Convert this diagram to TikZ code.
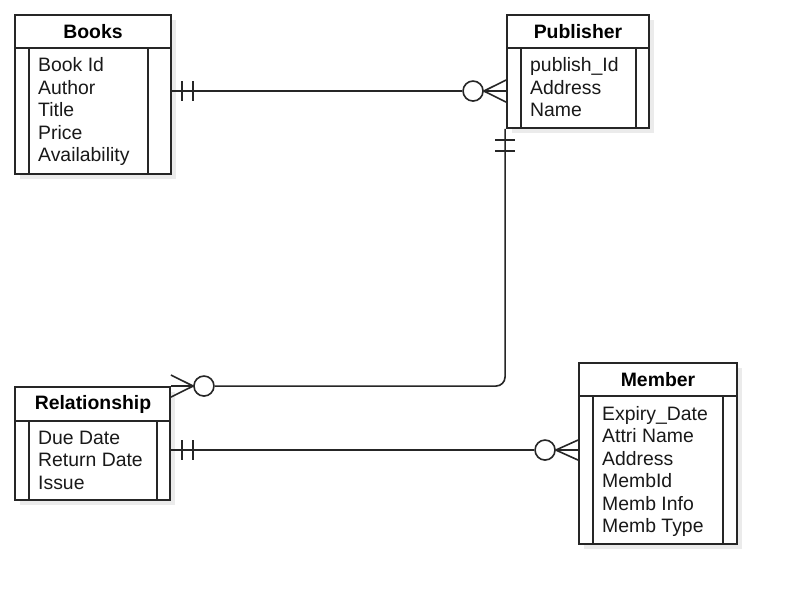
\documentclass[tikz,border=0pt]{standalone}
\usepackage{fontspec}
\setmainfont{Liberation Sans}
\usetikzlibrary{calc,shadows}
\tikzset{
  entity/.style={draw=black!85, line width=1.9pt, fill=white, inner sep=0pt,
    drop shadow={shadow xshift=5pt, shadow yshift=-5pt, fill=black!8, opacity=1}},
  divider/.style={draw=black!85, line width=1.9pt},
  title/.style={font=\fontsize{19.4}{22}\selectfont\bfseries, inner sep=0pt},
  attr/.style={font=\fontsize{19.4}{22}\selectfont, anchor=base west, inner sep=0pt, text=black!90},
  conn/.style={draw=black!85, line width=1.6pt},
  tickmark/.style={draw=black!85, line width=1.6pt},
  optcircle/.style={circle, draw=black!85, line width=1.6pt, fill=white, minimum size=20pt, inner sep=0pt},
}
\begin{document}
\begin{tikzpicture}[x=1pt,y=-1pt]
\useasboundingbox[fill=white] (0,0) rectangle (796,604);

% ---------- Books ----------
\node[entity, minimum width=156pt, minimum height=159pt] (books) at (93,94.5) {};
\draw[divider] ($(books.north west)+(0,34)$) -- ($(books.north east)+(0,34)$);
\draw[divider] ($(books.north west)+(15,34)$) -- ($(books.south west)+(15,0)$);
\draw[divider] ($(books.north east)+(-24,34)$) -- ($(books.south east)+(-24,0)$);
\node[title] (booksT) at (93,32) {Books};
\node[attr] (b1) at (38,72) {Book Id};
\node[attr] (b2) at (38,94.5) {Author};
\node[attr] (b3) at (38,117) {Title};
\node[attr] (b4) at (38,139.5) {Price};
\node[attr] (b5) at (38,162) {Availability};

% ---------- Publisher ----------
\node[entity, minimum width=142pt, minimum height=113pt] (pub) at (578,71.5) {};
\draw[divider] ($(pub.north west)+(0,34)$) -- ($(pub.north east)+(0,34)$);
\draw[divider] ($(pub.north west)+(15,34)$) -- ($(pub.south west)+(15,0)$);
\draw[divider] ($(pub.north east)+(-14,34)$) -- ($(pub.south east)+(-14,0)$);
\node[title] (pubT) at (578,32) {Publisher};
\node[attr] (p1) at (530,72) {publish\_Id};
\node[attr] (p2) at (530,94.5) {Address};
\node[attr] (p3) at (530,117) {Name};

% ---------- Relationship ----------
\node[entity, minimum width=155pt, minimum height=113pt] (rel) at (92.5,443.5) {};
\draw[divider] ($(rel.north west)+(0,35)$) -- ($(rel.north east)+(0,35)$);
\draw[divider] ($(rel.north west)+(15,35)$) -- ($(rel.south west)+(15,0)$);
\draw[divider] ($(rel.north east)+(-14,35)$) -- ($(rel.south east)+(-14,0)$);
\node[title] (relT) at (93,404.5) {Relationship};
\node[attr] (r1) at (38,444) {Due Date};
\node[attr] (r2) at (38,466.5) {Return Date};
\node[attr] (r3) at (38,489) {Issue};

% ---------- Member ----------
\node[entity, minimum width=158pt, minimum height=181pt] (mem) at (658,453.5) {};
\draw[divider] ($(mem.north west)+(0,34)$) -- ($(mem.north east)+(0,34)$);
\draw[divider] ($(mem.north west)+(15,34)$) -- ($(mem.south west)+(15,0)$);
\draw[divider] ($(mem.north east)+(-15,34)$) -- ($(mem.south east)+(-15,0)$);
\node[title] (memT) at (658,380) {Member};
\node[attr] (m1) at (602,420) {Expiry\_Date};
\node[attr] (m2) at (602,442.5) {Attri Name};
\node[attr] (m3) at (602,465) {Address};
\node[attr] (m4) at (602,487.5) {MembId};
\node[attr] (m5) at (602,510) {Memb Info};
\node[attr] (m6) at (602,532.5) {Memb Type};

% ---------- Books -- Publisher ----------
\coordinate (bpA) at ($(books.north east)+(0,77)$);
\coordinate (bpB) at (pub.west |- bpA);
\node[optcircle] (c1) at ($(bpB)+(-33,0)$) {};
\draw[conn] (bpA) -- (c1.west);
\draw[tickmark] ($(bpA)+(10,-10)$) -- ($(bpA)+(10,10)$);
\draw[tickmark] ($(bpA)+(21,-10)$) -- ($(bpA)+(21,10)$);
\draw[conn] (c1.east) -- (bpB);
\draw[conn] (c1.east) -- ($(bpB)+(0,-11)$);
\draw[conn] (c1.east) -- ($(bpB)+(0,11)$);

% ---------- Publisher -- Relationship ----------
\coordinate (prA) at (pub.south west);
\coordinate (prB) at (rel.north east);
\node[optcircle] (c2) at ($(prB)+(33,0)$) {};
\draw[conn, rounded corners=9pt] ($(prA)+(-1,0)$) -- ($(prA |- prB)+(-1,0)$) -- (c2.east);
\draw[tickmark] ($(prA)+(-11,11)$) -- ($(prA)+(9,11)$);
\draw[tickmark] ($(prA)+(-11,22)$) -- ($(prA)+(9,22)$);
\draw[conn] (c2.west) -- (prB);
\draw[conn] (c2.west) -- ($(prB)+(0,-11)$);
\draw[conn] (c2.west) -- ($(prB)+(0,11)$);

% ---------- Relationship -- Member ----------
\coordinate (rmA) at ($(rel.north east)+(0,64)$);
\coordinate (rmB) at (mem.west |- rmA);
\node[optcircle] (c3) at ($(rmB)+(-33,0)$) {};
\draw[conn] (rmA) -- (c3.west);
\draw[tickmark] ($(rmA)+(11,-10)$) -- ($(rmA)+(11,10)$);
\draw[tickmark] ($(rmA)+(22,-10)$) -- ($(rmA)+(22,10)$);
\draw[conn] (c3.east) -- (rmB);
\draw[conn] (c3.east) -- ($(rmB)+(0,-10)$);
\draw[conn] (c3.east) -- ($(rmB)+(0,10)$);
\end{tikzpicture}
\end{document}
